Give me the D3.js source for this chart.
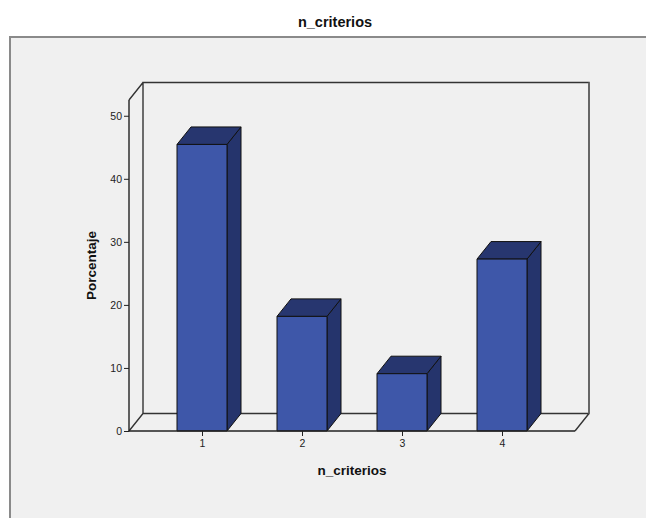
<!DOCTYPE html>
<html>
<head>
<meta charset="utf-8">
<script src="https://cdn.jsdelivr.net/npm/d3@7"></script>
<style>
  html, body { margin: 0; padding: 0; background: #ffffff; }
  svg { display: block; }
  text { font-family: "Liberation Sans", Arial, sans-serif; }
</style>
</head>
<body>
<script>
// Bar chart data: percentage of cases per number of criteria
const categories = ["1", "2", "3", "4"];
const percentages = [45.45, 18.18, 9.09, 27.27];
const yTicks = [0, 10, 20, 30, 40, 50];

const W = 646, H = 518;
const svg = d3.select("body").append("svg").attr("width", W).attr("height", H);

// Panel background
svg.append("rect").attr("x", 10).attr("y", 37).attr("width", W).attr("height", H)
  .attr("fill", "#f0f0f0").attr("stroke", "#8a8a8a").attr("stroke-width", 2);

// Chart title
svg.append("text").attr("x", 335).attr("y", 27).attr("text-anchor", "middle")
  .attr("font-size", 14.5).attr("font-weight", "bold").attr("fill", "#111")
  .text("n_criterios");

// Front plane geometry and 3D depth offset
const pLeft = 129, pRight = 575, pBase = 431, pTop = 100;
const dx = 14, dy = -17.5;

const x = d3.scalePoint().domain(categories).range([pLeft, pRight]).padding(0.73);
const y = d3.scaleLinear().domain([0, 52.5]).range([pBase, pTop]);
const barW = 50;

const frame = svg.append("g").attr("fill", "none").attr("stroke", "#333").attr("stroke-width", 1.4);
// Back wall and floor edges
frame.append("path").attr("d",
  `M${pLeft + dx},${pBase + dy}V${pTop + dy}H${pRight + dx}V${pBase + dy}H${pLeft + dx}` +
  `M${pLeft},${pBase}L${pLeft + dx},${pBase + dy}` +
  `M${pRight},${pBase}L${pRight + dx},${pBase + dy}` +
  `M${pLeft},${pTop}L${pLeft + dx},${pTop + dy}`);
// Right wall drawn slightly lighter
frame.append("path").attr("d", `M${pRight + dx},${pTop + dy}V${pBase + dy}`)
  .attr("stroke", "#666").attr("stroke-width", 2);

// Bars (front, top, side faces)
const bars = svg.append("g").attr("stroke", "#111").attr("stroke-width", 1).attr("stroke-linejoin", "round");
categories.forEach((c, i) => {
  const v = percentages[i];
  const x0 = x(c) - barW / 2, x1 = x(c) + barW / 2;
  const yv = y(v), y0 = y(0);
  const g = bars.append("g");
  g.append("path").attr("fill", "#25346c")
    .attr("d", `M${x1},${yv}L${x1 + dx},${yv + dy}L${x1 + dx},${y0 + dy}L${x1},${y0}Z`);
  g.append("path").attr("fill", "#27366f")
    .attr("d", `M${x0},${yv}L${x0 + dx},${yv + dy}L${x1 + dx},${yv + dy}L${x1},${yv}Z`);
  g.append("rect").attr("fill", "#3e57a9")
    .attr("x", x0).attr("y", yv).attr("width", barW).attr("height", y0 - yv);
});

// Front axis lines
const axisLines = svg.append("g").attr("fill", "none").attr("stroke", "#222").attr("stroke-width", 1.4);
axisLines.append("path").attr("d", `M${pLeft},${pTop}V${pBase}H${pRight}`);

// Y axis ticks and labels
const yAxis = d3.axisLeft(y).tickValues(yTicks).tickSize(5).tickPadding(2).tickFormat(d3.format("d"));
const gy = svg.append("g").attr("transform", `translate(${pLeft},0)`).call(yAxis);
gy.select(".domain").remove();
gy.selectAll("line").attr("stroke", "#222");
gy.selectAll("text").attr("font-size", 10.5).attr("fill", "#222")
  .attr("font-family", "'Liberation Sans', Arial, sans-serif");

// X axis ticks and labels
const xAxis = d3.axisBottom(x).tickSize(5).tickPadding(4);
const gx = svg.append("g").attr("transform", `translate(0,${pBase})`).call(xAxis);
gx.select(".domain").remove();
gx.selectAll("line").attr("stroke", "#222");
gx.selectAll("text").attr("font-size", 10.5).attr("fill", "#222")
  .attr("font-family", "'Liberation Sans', Arial, sans-serif");

// Axis titles
svg.append("text").attr("x", (pLeft + pRight) / 2).attr("y", 475).attr("text-anchor", "middle")
  .attr("font-size", 13.5).attr("font-weight", "bold").attr("fill", "#111").text("n_criterios");
svg.append("text").attr("transform", `translate(96,${(pTop + pBase) / 2}) rotate(-90)`)
  .attr("text-anchor", "middle").attr("font-size", 13.5).attr("font-weight", "bold")
  .attr("fill", "#111").text("Porcentaje");
</script>
</body>
</html>
